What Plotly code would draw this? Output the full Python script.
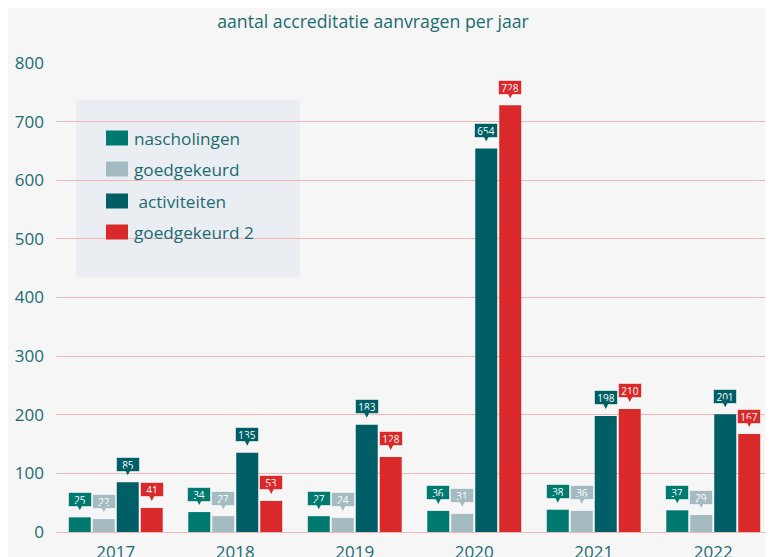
import plotly.graph_objects as go

years = ['2017', '2018', '2019', '2020', '2021', '2022']
series_names = ['nascholingen', 'goedgekeurd', 'activiteiten', 'goedgekeurd 2']
legend_labels = ['nascholingen', 'goedgekeurd', ' activiteiten', 'goedgekeurd 2']
nascholingen = [25, 34, 27, 36, 38, 37]
goedgekeurd = [22, 27, 24, 31, 36, 29]
activiteiten = [85, 135, 183, 654, 198, 201]
goedgekeurd2 = [41, 53, 128, 728, 210, 167]
y_ticks = [0, 100, 200, 300, 400, 500, 600, 700, 800]
colors = ['#00796f', '#a4bbc1', '#005f66', '#d9292a']
text_color = '#1b6b71'
bg = '#f6f6f6'

series = [nascholingen, goedgekeurd, activiteiten, goedgekeurd2]

BARGAP = 0.197
BARGROUPGAP = 0.083
slot = (1 - BARGAP) / len(series)

# page body has an 8px margin; figure is sized so it ends at the window edge
FIG_W, FIG_H = 765, 549

fig = go.Figure()
annotations = []
for k, (name, vals, col) in enumerate(zip(series_names, series, colors)):
    fig.add_trace(go.Bar(x=years, y=vals, name=name, marker=dict(color=col, line=dict(width=0)),
                         showlegend=False, hoverinfo='x+y+name'))
    off = (k - (len(series) - 1) / 2) * slot
    for i, v in enumerate(vals):
        annotations.append(dict(
            x=i + off, y=v, xref='x', yref='y', text=str(v),
            showarrow=True, ax=0, ay=-18, axref='pixel', ayref='pixel',
            arrowhead=2, arrowwidth=1, arrowsize=1.6, arrowcolor=col, standoff=7,
            bgcolor=col, bordercolor='rgba(255,255,255,0.55)', borderwidth=1,
            width=22, height=13, borderpad=0,
            font=dict(family='Open Sans', size=10, color='white')))

# manual legend box
shapes = [dict(type='rect', xref='x domain', yref='y domain', x0=0.028, x1=0.340, y0=0.544, y1=0.921,
               fillcolor='#eaedf1', line=dict(width=0), layer='below')]
px_w = 717.0
px_h = 469.0
item_y = [138, 169, 201, 232]
for k, (lab, col) in enumerate(zip(legend_labels, colors)):
    yc = item_y[k]
    shapes.append(dict(type='rect', xref='x domain', yref='y domain',
                       x0=(106 - 56) / px_w, x1=(128 - 56) / px_w,
                       y0=(532 - (yc + 7.5)) / px_h, y1=(532 - (yc - 7.5)) / px_h,
                       fillcolor=col, line=dict(width=0)))
    annotations.append(dict(xref='x domain', yref='y domain', x=(132 - 56) / px_w,
                            y=(532 - yc) / px_h, xanchor='left', yanchor='middle',
                            text=lab, showarrow=False,
                            font=dict(family='Open Sans', size=17.2, color=text_color)))

fig.update_layout(
    width=FIG_W, height=FIG_H,
    margin=dict(l=48, r=0, t=55, b=25),
    paper_bgcolor=bg, plot_bgcolor=bg,
    barmode='group', bargap=BARGAP, bargroupgap=BARGROUPGAP,
    title=dict(text='aantal accreditatie aanvragen per jaar', x=365 / FIG_W, xref='container',
               y=1 - 14 / FIG_H, yref='container', xanchor='center', yanchor='middle',
               font=dict(family='Open Sans', size=17.7, color=text_color)),
    font=dict(family='Open Sans', color=text_color),
    shapes=shapes,
    annotations=annotations,
    xaxis=dict(type='category', showgrid=False, showline=False, zeroline=False, automargin=False,
               tickfont=dict(size=17, color=text_color), ticks='', ticklen=0, ticklabelstandoff=8),
    yaxis=dict(range=[0, 800], tickvals=y_ticks, showgrid=True, gridcolor='#efb6b6', gridwidth=1,
               zeroline=True, zerolinecolor='#efb6b6', zerolinewidth=1, showline=False, automargin=False,
               tickfont=dict(size=17, color=text_color), ticks='', ticklabelstandoff=11),
)

fig.write_html('out.html')
